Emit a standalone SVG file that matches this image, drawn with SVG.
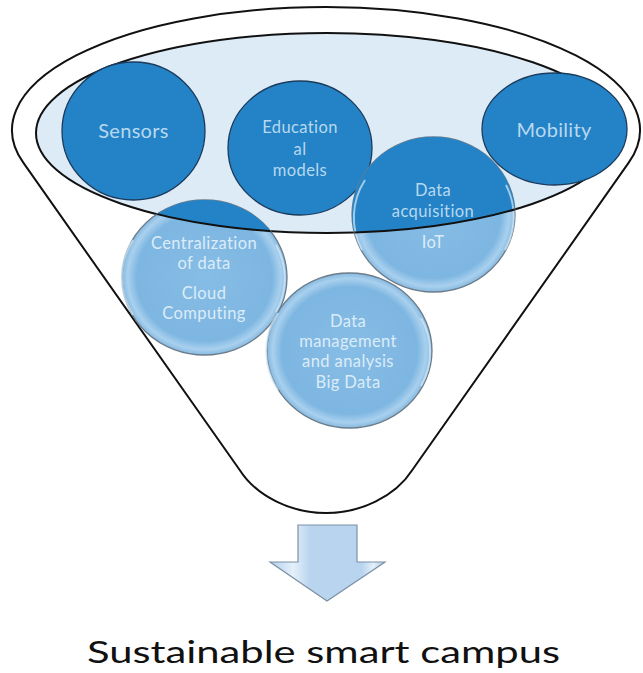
<svg xmlns="http://www.w3.org/2000/svg" width="643" height="673" viewBox="0 0 643 673">
  <defs>
    <style>
      .outline { fill: none; stroke: #111; stroke-width: 2; }
      .dark { fill: #2383C6; stroke: #1B3B5C; stroke-width: 1.3; }
      .darkover { fill: #2383C6; }
      .glass { fill: url(#glassGrad); stroke: #6C7C8A; stroke-width: 1.3; }
      .hilite { fill: none; stroke: #D6EAF8; stroke-width: 2; opacity: 0.7; }
      .t1 { font-family: Lato, "Open Sans", "Liberation Sans", sans-serif; font-size: 20px; fill: #B8D8EF; text-anchor: middle; letter-spacing: 0.3px; }
      .t2 { font-family: Lato, "Open Sans", "Liberation Sans", sans-serif; font-size: 16.5px; fill: #B8D8EF; text-anchor: middle; letter-spacing: 0.4px; }
      .t3 { font-family: Lato, "Open Sans", "Liberation Sans", sans-serif; font-size: 16.5px; fill: #DCECF8; text-anchor: middle; letter-spacing: 0.4px; }
      .title { font-family: Lato, "Open Sans", "Liberation Sans", sans-serif; font-size: 30px; fill: #111; text-anchor: middle; }
    </style>
    <radialGradient id="glassGrad" cx="0.5" cy="0.5" r="0.5">
      <stop offset="0" stop-color="#86BDE6"/>
      <stop offset="0.82" stop-color="#7DB6E1"/>
      <stop offset="0.93" stop-color="#A9D0EE"/>
      <stop offset="1" stop-color="#86B9E0"/>
    </radialGradient>
    <linearGradient id="arrowGrad" x1="0" y1="0" x2="1" y2="0">
      <stop offset="0" stop-color="#B3D0EC"/>
      <stop offset="0.2" stop-color="#E4F0FA"/>
      <stop offset="0.35" stop-color="#B9D4EE"/>
      <stop offset="0.8" stop-color="#B9D4EE"/>
      <stop offset="0.9" stop-color="#E4F0FA"/>
      <stop offset="1" stop-color="#A9C8E6"/>
    </linearGradient>
    <clipPath id="innerClip">
      <ellipse cx="327" cy="133" rx="291" ry="100"/>
    </clipPath>
    <clipPath id="lowerClip">
      <ellipse cx="433.5" cy="214.5" rx="81.5" ry="77.5"/>
      <ellipse cx="204.5" cy="277.5" rx="82.5" ry="77.5"/>
    </clipPath>
  </defs>

  <g id="funnel">
    <path d="M 23.3,162.7 A 314 123 0 1 1 628.7,162.7 L 412.3,470 C 395,497 360,513 326,513 C 292,513 257,497 239.7,470 Z" fill="#FFFFFF" stroke="#111" stroke-width="2"/>
    <ellipse id="rim" cx="327" cy="133" rx="291" ry="100" fill="#DDEBF7" stroke="#111" stroke-width="2"/>
  </g>

  <g id="node-sensors">
    <ellipse class="dark" cx="133.5" cy="131" rx="71.5" ry="69"/>
    <text class="t1" x="133.5" y="138">Sensors</text>
  </g>

  <g id="node-educational-models">
    <ellipse class="dark" cx="300" cy="148" rx="72" ry="67"/>
    <text class="t2" x="300" y="133">Education</text>
    <text class="t2" x="300" y="155">al</text>
    <text class="t2" x="300" y="176">models</text>
  </g>

  <g id="node-mobility">
    <ellipse class="dark" cx="554.5" cy="129" rx="72.5" ry="56"/>
    <text class="t1" x="554" y="137">Mobility</text>
  </g>

  <g id="node-data-acquisition">
    <ellipse class="glass" cx="433.5" cy="214.5" rx="81.5" ry="77.5"/>
    <ellipse class="darkover" cx="433.5" cy="214.5" rx="81.5" ry="77.5" clip-path="url(#innerClip)"/>
    <path class="hilite" d="M 362,250 A 76 72 0 0 1 365,180"/>
    <path class="hilite" d="M 506,185 A 76 72 0 0 1 505,250"/>
  </g>

  <g id="node-centralization">
    <ellipse class="glass" cx="204.5" cy="277.5" rx="82.5" ry="77.5"/>
    <ellipse class="darkover" cx="204.5" cy="277.5" rx="82.5" ry="77.5" clip-path="url(#innerClip)"/>
    <path class="hilite" d="M 133,315 A 77 72 0 0 1 133,240"/>
    <path class="hilite" d="M 276,245 A 77 72 0 0 1 276,312"/>
  </g>

  <g id="rim-line-over-glass">
    <ellipse class="outline" cx="327" cy="133" rx="291" ry="100" clip-path="url(#lowerClip)"/>
  </g>

  <g id="node-data-acquisition-text">
    <text class="t2" x="433" y="196">Data</text>
    <text class="t2" x="433" y="217">acquisition</text>
    <text class="t3" x="433" y="248">IoT</text>
  </g>

  <g id="node-centralization-text">
    <text class="t3" x="204" y="249">Centralization</text>
    <text class="t3" x="204" y="269">of data</text>
    <text class="t3" x="204" y="299">Cloud</text>
    <text class="t3" x="204" y="319">Computing</text>
  </g>

  <g id="node-data-management">
    <ellipse class="glass" cx="349.5" cy="350.5" rx="82.5" ry="77.5"/>
    <path class="hilite" d="M 278,390 A 77 72 0 0 1 278,313"/>
    <path class="hilite" d="M 421,318 A 77 72 0 0 1 421,386"/>
    <text class="t3" x="348" y="327">Data</text>
    <text class="t3" x="348" y="347">management</text>
    <text class="t3" x="348" y="367">and analysis</text>
    <text class="t3" x="348" y="388">Big Data</text>
  </g>

  <g id="connectors">
    <path d="M 298,525 L 357,525 L 357,562 L 385,562 L 327,601 L 270,562 L 298,562 Z" fill="url(#arrowGrad)" stroke="#7D90A3" stroke-width="1.2"/>
  </g>

  <g id="node-result">
    <text class="title" x="323.5" y="663" textLength="473" lengthAdjust="spacingAndGlyphs">Sustainable smart campus</text>
  </g>
</svg>
